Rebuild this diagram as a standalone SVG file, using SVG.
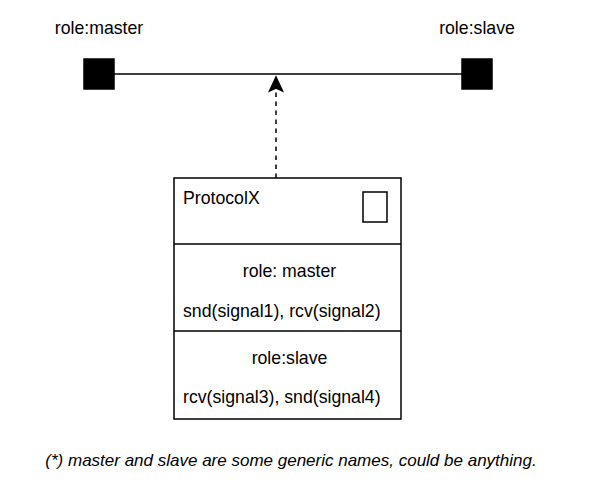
<svg xmlns="http://www.w3.org/2000/svg" width="593" height="498" viewBox="0 0 593 498">
<defs>
<style>
text{font-family:"Liberation Sans",Arial,sans-serif;font-size:17.7px;fill:#000}
.ln{stroke:#000;stroke-width:1.5;fill:none}
</style>
</defs>
<rect width="593" height="498" fill="#fff"/>
<g id="connectors">
<line class="ln" x1="114" y1="74" x2="462" y2="74"/>
<path d="M276,178 L276,88" class="ln" stroke-dasharray="4.5 4.5"/>
<path d="M276,77 L282.5,91 L276,88 L269.5,91 Z" fill="#000" stroke="#000" stroke-width="1.5"/>
</g>
<g id="master">
<rect x="84" y="59" width="30" height="30" fill="#000" stroke="#000" stroke-width="1.5"/>
<text x="99" y="34" text-anchor="middle">role:master</text>
</g>
<g id="slave">
<rect x="462" y="59" width="30" height="30" fill="#000" stroke="#000" stroke-width="1.5"/>
<text x="477" y="34" text-anchor="middle">role:slave</text>
</g>
<g id="protocol">
<rect x="174" y="178" width="227" height="241" class="ln" fill="#fff"/>
<line class="ln" x1="174" y1="244" x2="401" y2="244"/>
<line class="ln" x1="174" y1="331" x2="401" y2="331"/>
<rect x="363" y="192" width="24" height="30" class="ln"/>
<text x="183" y="204">ProtocolX</text>
<text x="289.5" y="277" text-anchor="middle">role: master</text>
<text x="183" y="317">snd(signal1), rcv(signal2)</text>
<text x="289.5" y="364" text-anchor="middle">role:slave</text>
<text x="183" y="403">rcv(signal3), snd(signal4)</text>
</g>
<g id="note">
<text x="291" y="466" text-anchor="middle" font-style="italic" style="font-size:17px">(*) master and slave are some generic names, could be anything.</text>
</g>
</svg>
